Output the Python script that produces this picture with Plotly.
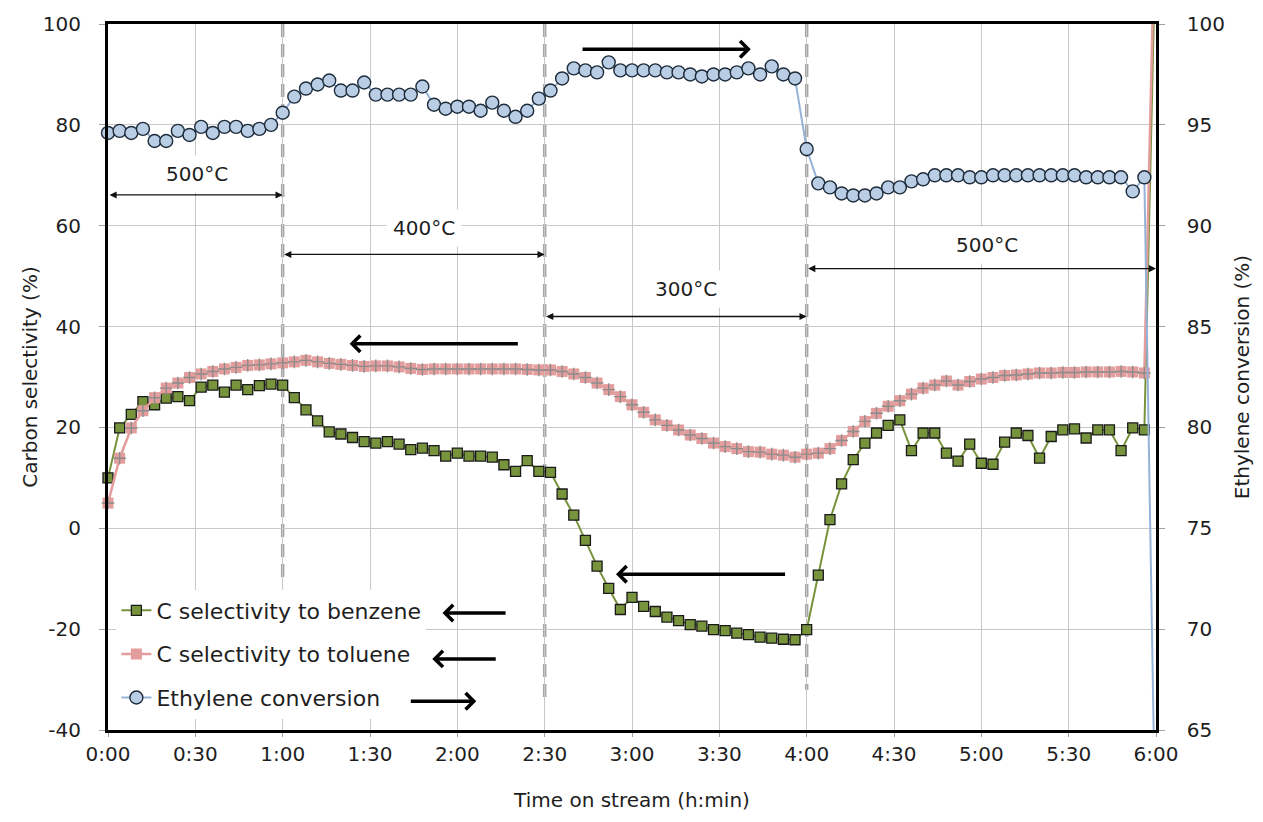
import plotly.graph_objects as go

# ---------------- data ----------------
time_min = [0, 4, 8, 12, 16, 20, 24, 28, 32, 36,
            40, 44, 48, 52, 56, 60, 64, 68, 72, 76,
            80, 84, 88, 92, 96, 100, 104, 108, 112, 116,
            120, 124, 128, 132, 136, 140, 144, 148, 152, 156,
            160, 164, 168, 172, 176, 180, 184, 188, 192, 196,
            200, 204, 208, 212, 216, 220, 224, 228, 232, 236,
            240, 244, 248, 252, 256, 260, 264, 268, 272, 276,
            280, 284, 288, 292, 296, 300, 304, 308, 312, 316,
            320, 324, 328, 332, 336, 340, 344, 348, 352, 356]

benzene = [10.0, 19.9, 22.6, 25.1, 24.5, 25.8, 26.1, 25.3, 28.0, 28.4,
           27.0, 28.4, 27.5, 28.3, 28.6, 28.4, 25.9, 23.5, 21.3, 19.1,
           18.7, 18.0, 17.2, 16.9, 17.2, 16.7, 15.6, 15.9, 15.4, 14.3,
           14.9, 14.3, 14.3, 14.1, 12.6, 11.3, 13.4, 11.3, 11.1, 6.8,
           2.6, -2.4, -7.5, -11.9, -16.1, -13.7, -15.5, -16.5, -17.6, -18.3,
           -19.1, -19.4, -20.1, -20.3, -20.8, -21.1, -21.6, -21.8, -22.0, -22.1,
           -20.1, -9.3, 1.7, 8.8, 13.6, 16.9, 18.9, 20.4, 21.5, 15.4,
           18.9, 18.9, 14.9, 13.3, 16.7, 12.9, 12.7, 17.1, 18.9, 18.4,
           13.9, 18.2, 19.5, 19.7, 17.9, 19.5, 19.5, 15.4, 19.9, 19.5]

toluene = [5.0, 13.9, 19.9, 23.3, 25.9, 27.8, 28.8, 29.9, 30.6, 31.1,
           31.6, 31.9, 32.3, 32.4, 32.6, 32.8, 33.0, 33.3, 33.0, 32.7,
           32.5, 32.3, 32.1, 32.2, 32.2, 32.0, 31.7, 31.5, 31.6, 31.6,
           31.6, 31.6, 31.6, 31.6, 31.6, 31.6, 31.5, 31.4, 31.4, 31.1,
           30.6, 29.9, 28.8, 27.5, 26.1, 24.5, 23.0, 21.5, 20.4, 19.5,
           18.5, 17.8, 16.9, 16.2, 15.8, 15.2, 15.1, 14.7, 14.5, 14.1,
           14.7, 14.9, 15.8, 17.4, 19.2, 21.2, 22.8, 24.2, 25.3, 26.6,
           27.8, 28.4, 29.2, 28.4, 29.1, 29.6, 29.9, 30.3, 30.4, 30.6,
           30.8, 30.8, 30.9, 30.9, 31.0, 31.0, 31.0, 31.1, 31.0, 30.8]

ethylene = [94.6, 94.7, 94.6, 94.8, 94.2, 94.2, 94.7, 94.5, 94.9, 94.6,
            94.9, 94.9, 94.7, 94.8, 95.0, 95.6, 96.4, 96.8, 97.0, 97.2,
            96.7, 96.7, 97.1, 96.5, 96.5, 96.5, 96.5, 96.9, 96.0, 95.8,
            95.9, 95.9, 95.7, 96.1, 95.7, 95.4, 95.7, 96.3, 96.7, 97.3,
            97.8, 97.7, 97.6, 98.1, 97.7, 97.7, 97.7, 97.7, 97.6, 97.6,
            97.5, 97.4, 97.5, 97.5, 97.6, 97.8, 97.5, 97.9, 97.5, 97.3,
            93.8, 92.1, 91.9, 91.6, 91.5, 91.5, 91.6, 91.9, 91.9, 92.2,
            92.3, 92.5, 92.5, 92.5, 92.4, 92.4, 92.5, 92.5, 92.5, 92.5,
            92.5, 92.5, 92.5, 92.5, 92.4, 92.4, 92.4, 92.4, 91.7, 92.4]

# final off-scale reading at 6:00 (line leaves the plot)
end_time = 360
end_benzene = 120
end_toluene = 130
end_ethylene = 58

tick_vals = [0, 30, 60, 90, 120, 150, 180, 210, 240, 270, 300, 330, 360]
tick_text = ["0:00", "0:30", "1:00", "1:30", "2:00", "2:30", "3:00",
             "3:30", "4:00", "4:30", "5:00", "5:30", "6:00"]
left_ticks = [-40, -20, 0, 20, 40, 60, 80, 100]
left_text = ["-40", "-20", "0", "20", "40", "60", "80", "100"]
right_ticks = [65, 70, 75, 80, 85, 90, 95, 100]

temp_labels = ["500°C", "400°C", "300°C", "500°C"]
temp_start = [0, 60, 150, 240]
temp_end = [60, 150, 240, 360]
change_times = [60, 150, 240]

# ---------------- style ----------------
FONT = "DejaVu Sans"
GREEN = "#77933C"
PINK = "#E39D9C"
BLUE_FILL = "#B9CDE5"
BLUE_LINE = "#95B3D7"
GRID = "#C8C8C8"
TXT = "#1e1e1e"

fig = go.Figure()

# spike lines at the end (clipped by plot area)
fig.add_trace(go.Scatter(x=[time_min[-1], end_time], y=[benzene[-1], end_benzene],
                         mode="lines", line=dict(color=GREEN, width=2),
                         showlegend=False, hoverinfo="skip"))
fig.add_trace(go.Scatter(x=[time_min[-1], end_time], y=[toluene[-1], end_toluene],
                         mode="lines", line=dict(color=PINK, width=2.5),
                         showlegend=False, hoverinfo="skip"))

fig.add_trace(go.Scatter(
    x=time_min, y=benzene, name="C selectivity to benzene",
    mode="lines+markers", legendgroup="b",
    line=dict(color=GREEN, width=2),
    marker=dict(symbol="square", size=10, color=GREEN,
                line=dict(color="#1a1a1a", width=1.3)),
    cliponaxis=False))

fig.add_trace(go.Scatter(
    x=time_min, y=toluene, name="C selectivity to toluene",
    mode="lines+markers", legendgroup="t",
    line=dict(color=PINK, width=2.5),
    marker=dict(symbol="square", size=11, color=PINK, line=dict(width=0)),
    cliponaxis=False))
fig.add_trace(go.Scatter(
    x=time_min, y=toluene, mode="markers", legendgroup="t", showlegend=False,
    marker=dict(symbol="cross-thin", size=9, color="#8c8c8c",
                line=dict(color="#8c8c8c", width=1.4)),
    cliponaxis=False, hoverinfo="skip"))

fig.add_trace(go.Scatter(x=[time_min[-1], end_time], y=[ethylene[-1], end_ethylene],
                         mode="lines", line=dict(color=BLUE_LINE, width=2),
                         yaxis="y2", showlegend=False, hoverinfo="skip"))
fig.add_trace(go.Scatter(
    x=time_min, y=ethylene, name="Ethylene conversion",
    mode="lines+markers", legendgroup="e", yaxis="y2",
    line=dict(color=BLUE_LINE, width=2),
    marker=dict(symbol="circle", size=13, color=BLUE_FILL,
                line=dict(color="#1d2b3a", width=1.4)),
    cliponaxis=False))

# ---------------- shapes ----------------
dash_ends = [-10.5, -34, -32]
shapes = []
for xv, yend in zip(change_times, dash_ends):
    shapes.append(dict(type="line", xref="x", yref="y", x0=xv, x1=xv, y0=100, y1=yend,
                       line=dict(color="#A6A6A6", width=3.5, dash="13px,7px"),
                       layer="below"))

# ---------------- annotations ----------------
ann = []
arrow_levels = [66.1, 54.3, 42.0, 51.5]
label_levels = [70.3, 59.6, 47.5, 56.2]
label_x = [30.5, 108.5, 198.5, 302]
for lab, s, e, al, ll, lx in zip(temp_labels, temp_start, temp_end, arrow_levels, label_levels, label_x):
    ann.append(dict(x=e, y=al, ax=s, ay=al, xref="x", yref="y", axref="x", ayref="y",
                    text="", showarrow=True, arrowhead=2, arrowside="end+start",
                    arrowsize=1.1, arrowwidth=1.3, arrowcolor="#111", standoff=0, startstandoff=0))
    ann.append(dict(x=lx, y=ll, xref="x", yref="y", text=lab, showarrow=False,
                    font=dict(family=FONT, size=20, color=TXT), bgcolor="white", borderpad=6))

big_arrows = [  # (tail_x, tail_y, head_x, head_y)
    (162.5, 95.0, 220.8, 95.0),
    (141.3, 36.6, 83.0, 36.6),
    (233.1, -9.1, 174.5, -9.1),
    (137.1, -16.8, 114.9, -16.8),
    (133.7, -25.9, 111.4, -25.9),
    (103.5, -34.3, 126.5, -34.3),
]
for tx, ty, hx, hy in big_arrows:
    ann.append(dict(x=hx, y=hy, ax=tx, ay=ty, xref="x", yref="y", axref="x", ayref="y",
                    text="", showarrow=True, arrowhead=4, arrowsize=0.9, arrowwidth=3.5,
                    arrowcolor="black", standoff=0, startstandoff=0))

fig.update_layout(
    width=1263, height=822,
    margin=dict(l=108, r=105, t=22, b=92),
    paper_bgcolor="white", plot_bgcolor="white",
    font=dict(family=FONT, size=20, color=TXT),
    showlegend=True,
    legend=dict(x=0.008, y=0.199, xanchor="left", yanchor="top", bgcolor="white",
                font=dict(family=FONT, size=22, color=TXT), tracegroupgap=12,
                itemwidth=30, traceorder="grouped"),
    xaxis=dict(range=[0, 360], tickvals=tick_vals, ticktext=tick_text,
               showgrid=True, gridcolor=GRID, gridwidth=1,
               showline=True, linecolor="black", linewidth=2.5, mirror=True,
               ticks="outside", ticklen=4, tickcolor="#A0A0A0",
               zeroline=False, tickfont=dict(size=20),
               title=dict(text="Time on stream (h:min)", font=dict(size=20), standoff=29)),
    yaxis=dict(range=[-40, 100], tickvals=left_ticks, ticktext=left_text,
               showgrid=True, gridcolor=GRID, gridwidth=1,
               showline=True, linecolor="black", linewidth=3, mirror=True,
               ticks="outside", ticklen=6, tickcolor="#A0A0A0",
               zeroline=False, tickfont=dict(size=20), ticklabelstandoff=14,
               title=dict(text="Carbon selectivity (%)", font=dict(size=20), standoff=0)),
    yaxis2=dict(range=[65, 100], tickvals=right_ticks, overlaying="y", side="right",
                showgrid=False, showline=True, linecolor="black", linewidth=2.5,
                ticks="outside", ticklen=6, tickcolor="#A0A0A0", zeroline=False,
                tickfont=dict(size=20), ticklabelstandoff=18,
                title=dict(text="Ethylene conversion (%)", font=dict(size=20), standoff=12)),
    shapes=shapes,
    annotations=ann,
)

fig.write_html("out.html", post_script="document.body.style.margin='0';")
